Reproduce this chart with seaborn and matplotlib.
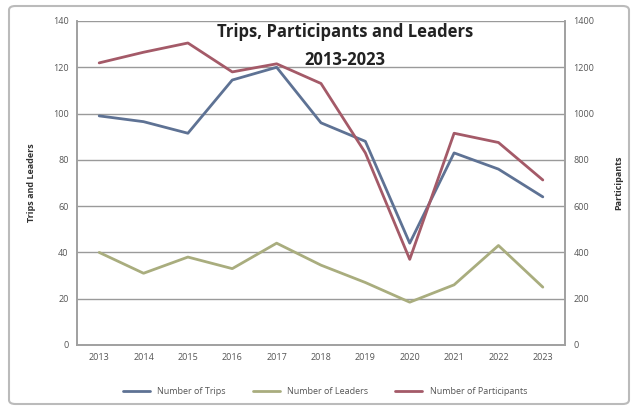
import matplotlib
matplotlib.use("Agg")
import matplotlib.pyplot as plt
import seaborn as sns
import pandas as pd
import numpy as np
from matplotlib.patches import FancyBboxPatch
from matplotlib.lines import Line2D

years = ["2013", "2014", "2015", "2016", "2017", "2018", "2019", "2020", "2021", "2022", "2023"]
trips = [99, 96.5, 91.5, 114.5, 120, 96, 88, 44, 83, 76, 64]
leaders = [40, 31, 38, 33, 44, 34.5, 27, 18.5, 26, 43, 25]
participants = [1219, 1265, 1305, 1180, 1215, 1130, 830, 370, 915, 875, 713]

pos = np.arange(len(years))
data = pd.DataFrame({"pos": pos, "trips": trips, "leaders": leaders, "participants": participants})

c_trips = "#5E7294"
c_leaders = "#A9AD7E"
c_part = "#A45A68"

sns.set_style("white")
plt.rcParams["font.family"] = ["Open Sans", "DejaVu Sans"]

fig = plt.figure(figsize=(6.37, 4.09), dpi=100)
ax = fig.add_axes([77 / 637, 1 - 345 / 409, (565 - 77) / 637, (345 - 21) / 409])
ax2 = ax.twinx()

sns.lineplot(data=data, x="pos", y="trips", color=c_trips, lw=2, ax=ax)
sns.lineplot(data=data, x="pos", y="leaders", color=c_leaders, lw=2, ax=ax)
sns.lineplot(data=data, x="pos", y="participants", color=c_part, lw=2, ax=ax2)

ax.set_xlim(-0.5, len(years) - 0.5)
ax.set_ylim(0, 140)
ax2.set_ylim(0, 1400)
ax.set_yticks(range(0, 141, 20))
ax2.set_yticks(range(0, 1401, 200))
ax.set_xticks(pos)
ax.set_xticklabels(years)
ax.tick_params(axis="both", labelsize=6.5, colors="#555555", length=0, pad=6)
ax2.tick_params(axis="y", labelsize=6.5, colors="#555555", length=0, pad=6)
ax.set_xlabel("")
ax.set_ylabel("Trips and Leaders", fontsize=6.5, fontweight="bold", color="#333333", labelpad=12)
ax2.set_ylabel("Participants", fontsize=6.5, fontweight="bold", color="#333333", labelpad=14)

ax.grid(axis="y", color="#9A9A9A", lw=1)
ax.set_axisbelow(True)
for a in (ax, ax2):
    a.spines["top"].set_visible(False)
    for s in ("left", "right", "bottom"):
        a.spines[s].set_color("#A0A0A0")
        a.spines[s].set_linewidth(1.2)

fig.text(345 / 637, 1 - 32 / 409, "Trips, Participants and Leaders", ha="center", va="center",
         fontsize=12, fontweight="bold", color="#222222")
fig.text(345 / 637, 1 - 60 / 409, "2013-2023", ha="center", va="center",
         fontsize=12, fontweight="bold", color="#222222")

handles = [Line2D([], [], color=c_trips, lw=2),
           Line2D([], [], color=c_leaders, lw=2),
           Line2D([], [], color=c_part, lw=2)]
fig.legend(handles, ["Number of Trips", "Number of Leaders", "Number of Participants"],
           loc="center", bbox_to_anchor=(325 / 637, 1 - 392 / 409), ncol=3, frameon=False,
           fontsize=6.5, handlelength=3, columnspacing=3, labelcolor="#555555")

frame = FancyBboxPatch((9 / 637, 5 / 409), 620 / 637, 398 / 409, boxstyle="round,pad=0,rounding_size=0.01",
                       transform=fig.transFigure, fill=False, ec="#BBBBBB", lw=1.5)
fig.patches.append(frame)

fig.savefig("out.png", dpi=100)
